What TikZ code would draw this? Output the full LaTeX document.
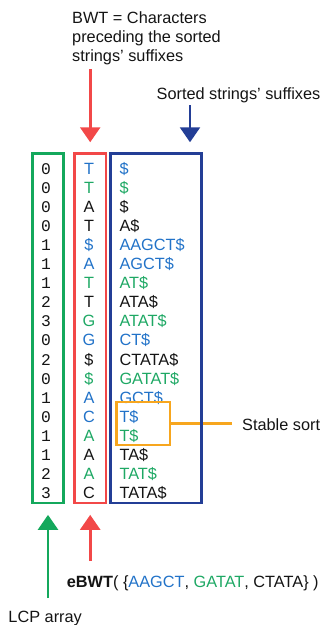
\documentclass[tikz,border=0pt]{standalone}
\usepackage{fontspec}
\setmainfont{Liberation Sans}
\setmonofont{Liberation Mono}
\usetikzlibrary{arrows.meta}
\definecolor{cBlue}{RGB}{33,114,200}
\definecolor{cGreen}{RGB}{30,168,100}
\definecolor{cGreenBox}{RGB}{20,168,92}
\definecolor{cRed}{RGB}{242,72,72}
\definecolor{cNavy}{RGB}{35,62,150}
\definecolor{cOrange}{RGB}{247,166,30}
\definecolor{cBlack}{RGB}{20,20,20}
\tikzset{
  txt/.style={inner sep=0pt, font=\fontsize{16.3}{19}\selectfont, text=cBlack},
  monotxt/.style={inner sep=0pt, font=\fontsize{16.3}{19}\selectfont\ttfamily, text=cBlack},
  colbox/.style={draw=#1, line width=2.6pt, inner sep=0pt},
  arr/.style={draw=#1, line width=2.6pt, -{Triangle[length=15pt,width=20pt]}},
}
\begin{document}
\begin{tikzpicture}[x=1pt,y=-1pt]
\useasboundingbox (0,0) rectangle (326,625);
% rows
\foreach \i/\l/\b/\bc/\s/\sc in {
 1/0/T/cBlue/\$/cBlue,
 2/0/T/cGreen/\$/cGreen,
 3/0/A/cBlack/\$/cBlack,
 4/0/T/cBlack/A\$/cBlack,
 5/1/\$/cBlue/AAGCT\$/cBlue,
 6/1/A/cBlue/AGCT\$/cBlue,
 7/1/T/cGreen/AT\$/cGreen,
 8/2/T/cBlack/ATA\$/cBlack,
 9/3/G/cGreen/ATAT\$/cGreen,
 10/0/G/cBlue/CT\$/cBlue,
 11/2/\$/cBlack/CTATA\$/cBlack,
 12/0/\$/cGreen/GATAT\$/cGreen,
 13/1/A/cBlue/GCT\$/cBlue,
 14/0/C/cBlue/T\$/cBlue,
 15/1/A/cGreen/T\$/cGreen,
 16/1/A/cBlack/TA\$/cBlack,
 17/2/A/cGreen/TAT\$/cGreen,
 18/3/C/cBlack/TATA\$/cBlack}{
  \node[monotxt, anchor=base] (l\i) at (46, {174.5+19.05*(\i-1)}) {\l};
  \node[txt, anchor=base, text=\bc] (b\i) at (89, {174.5+19.05*(\i-1)}) {\b};
  \node[txt, anchor=base west, text=\sc] (s\i) at (119.3, {174.5+19.05*(\i-1)}) {\s};
}
% stable sort
\node[colbox=cOrange, minimum width=53.3pt, minimum height=43pt] (obox) at (143.4,423.5) {};
\node[txt, anchor=base west] (stable) at (242,430) {Stable sort};
\draw[cOrange, line width=2.6pt] (obox.east) -- ([xshift=-10pt]stable.west |- obox.east);
% column boxes
\node[colbox=cGreenBox, minimum width=30.6pt, minimum height=349.5pt] (gbox) at (48,328.3) {};
\node[colbox=cRed, minimum width=31.7pt, minimum height=349.5pt] (rbox) at (90.2,328.3) {};
\node[colbox=cNavy, minimum width=91pt, minimum height=349.5pt] (nbox) at (156.2,328.3) {};
% labels
\node[txt, anchor=north west, align=left] (bwtlab) at (72,11.8) {BWT = Characters\\preceding the sorted\\strings’ suffixes};
\node[txt, anchor=base] (sortlab) at (238.5,99) {Sorted strings’ suffixes};
\node[txt, anchor=base west] (ebwt) at (66.7,587.3) {\textbf{eBWT}( \{\textcolor{cBlue}{AAGCT}, \textcolor{cGreen}{GATAT}, CTATA\} )};
\node[txt, anchor=base west] (lcplab) at (8.3,622.7) {LCP array};
% arrows
\coordinate (rtop) at (90.2,69);
\coordinate (ntop) at (190,105);
\coordinate (rbot) at (90.2,561);
\coordinate (gbot) at (48,598);
\draw[arr=cRed] (rtop) -- ([yshift=10pt]rbox.north);
\draw[arr=cNavy] (ntop) -- ([yshift=10pt]ntop |- nbox.north);
\draw[arr=cRed] (rbot) -- ([yshift=-10.5pt]rbox.south);
\draw[arr=cGreenBox] (gbot) -- ([yshift=-10.5pt]gbox.south);
\end{tikzpicture}
\end{document}
